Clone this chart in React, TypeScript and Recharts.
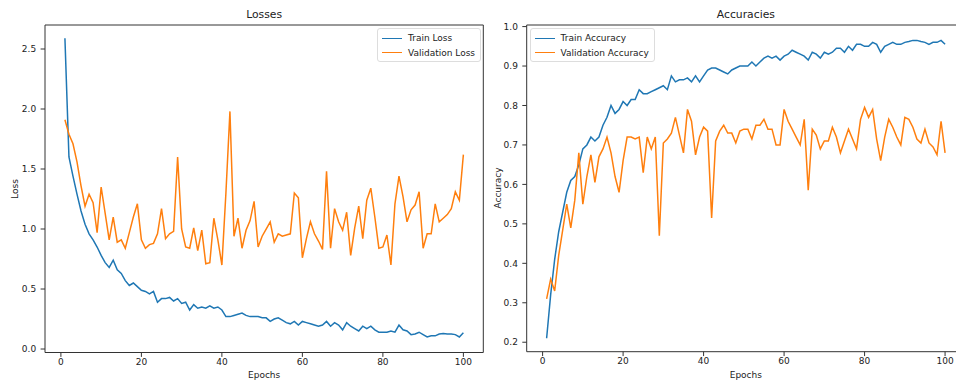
import { LineChart, Line, XAxis, YAxis, ReferenceArea } from 'recharts';

const epochs = Array.from({ length: 100 }, (_, i) => i + 1);

const trainLoss = [
  2.59, 1.6, 1.44, 1.29, 1.15, 1.04, 0.96, 0.91, 0.85, 0.78,
  0.72, 0.68, 0.74, 0.66, 0.63, 0.57, 0.53, 0.55, 0.52, 0.49,
  0.48, 0.46, 0.48, 0.39, 0.42, 0.42, 0.43, 0.4, 0.42, 0.38,
  0.39, 0.325, 0.37, 0.34, 0.35, 0.34, 0.36, 0.34, 0.35, 0.325,
  0.27, 0.27, 0.28, 0.29, 0.3, 0.28, 0.27, 0.27, 0.27, 0.26,
  0.26, 0.23, 0.25, 0.26, 0.24, 0.22, 0.21, 0.23, 0.2, 0.23,
  0.22, 0.21, 0.2, 0.19, 0.2, 0.23, 0.19, 0.22, 0.2, 0.16,
  0.22, 0.19, 0.17, 0.15, 0.19, 0.17, 0.19, 0.16, 0.14, 0.14,
  0.14, 0.15, 0.14, 0.2, 0.16, 0.15, 0.12, 0.125, 0.14, 0.12,
  0.1, 0.11, 0.11, 0.125, 0.13, 0.125, 0.125, 0.12, 0.1, 0.135,
];

const valLoss = [
  1.91, 1.79, 1.71, 1.56, 1.36, 1.19, 1.29, 1.22, 0.97, 1.35,
  1.13, 0.91, 1.1, 0.89, 0.91, 0.84, 0.97, 1.1, 1.21, 0.91,
  0.84, 0.87, 0.88, 0.96, 1.17, 0.92, 0.96, 0.98, 1.6, 1.0,
  0.85, 0.84, 1.01, 0.82, 0.99, 0.71, 0.72, 1.09, 0.91, 0.7,
  1.3, 1.98, 0.94, 1.09, 0.84, 0.99, 1.07, 1.23, 0.85, 0.94,
  1.0, 1.06, 0.89, 0.96, 0.94, 0.95, 0.96, 1.3, 1.26, 0.76,
  0.92, 1.06, 0.96, 0.9, 0.83, 1.48, 0.84, 1.17, 1.06, 0.99,
  1.14, 0.78, 1.01, 1.19, 0.92, 1.24, 1.34, 1.1, 0.84, 0.85,
  0.95, 0.7, 1.21, 1.44, 1.27, 1.06, 1.16, 1.2, 1.31, 0.84,
  0.96, 0.96, 1.21, 1.06, 1.09, 1.12, 1.17, 1.31, 1.24, 1.62,
];

const trainAcc = [
  0.21, 0.32, 0.41, 0.48, 0.53, 0.58, 0.61, 0.62, 0.65, 0.69,
  0.7, 0.72, 0.71, 0.72, 0.75, 0.77, 0.8, 0.78, 0.79, 0.81,
  0.8, 0.815, 0.815, 0.84, 0.83, 0.83, 0.835, 0.84, 0.845, 0.85,
  0.84, 0.875, 0.86, 0.865, 0.865, 0.87, 0.86, 0.875, 0.86, 0.875,
  0.89, 0.895, 0.895, 0.89, 0.885, 0.88, 0.89, 0.895, 0.9, 0.9,
  0.9, 0.91, 0.9, 0.91, 0.92, 0.925, 0.92, 0.925, 0.915, 0.925,
  0.93, 0.94, 0.935, 0.93, 0.925, 0.915, 0.935, 0.93, 0.92, 0.935,
  0.93, 0.935, 0.945, 0.945, 0.935, 0.95, 0.94, 0.955, 0.955, 0.95,
  0.95, 0.96, 0.955, 0.935, 0.95, 0.955, 0.96, 0.955, 0.955, 0.96,
  0.962, 0.965, 0.965, 0.962, 0.96, 0.955, 0.96, 0.96, 0.965, 0.955,
];

const valAcc = [
  0.31, 0.36, 0.33, 0.42, 0.485, 0.55, 0.49, 0.56, 0.68, 0.55,
  0.62, 0.675, 0.605, 0.67, 0.69, 0.72, 0.68, 0.62, 0.58, 0.66,
  0.72, 0.72, 0.715, 0.72, 0.63, 0.72, 0.69, 0.72, 0.47, 0.705,
  0.715, 0.73, 0.77, 0.725, 0.68, 0.79, 0.76, 0.675, 0.72, 0.745,
  0.735, 0.515, 0.71, 0.735, 0.75, 0.73, 0.73, 0.705, 0.735, 0.74,
  0.74, 0.715, 0.75, 0.75, 0.765, 0.74, 0.74, 0.7, 0.7, 0.79,
  0.76, 0.74, 0.72, 0.7, 0.765, 0.585, 0.74, 0.725, 0.69, 0.71,
  0.71, 0.745, 0.72, 0.68, 0.71, 0.74, 0.715, 0.69, 0.765, 0.795,
  0.77, 0.79, 0.715, 0.66, 0.72, 0.765, 0.745, 0.72, 0.7, 0.77,
  0.765, 0.745, 0.715, 0.705, 0.74, 0.705, 0.695, 0.675, 0.76, 0.68,
];

const epochTicks = [0, 20, 40, 60, 80, 100];
const lossTicks = [0, 0.5, 1, 1.5, 2, 2.5];
const accTicks = [0.2, 0.3, 0.4, 0.5, 0.6, 0.7, 0.8, 0.9, 1.0];

const BLUE = '#1f77b4';
const ORANGE = '#ff7f0e';
const FONT = '"DejaVu Sans", sans-serif';
const X_DOMAIN: [number, number] = [-3.95, 104.95];

const lossRows = epochs.map((e, i) => ({ epoch: e, train: trainLoss[i], val: valLoss[i] }));
const accRows = epochs.map((e, i) => ({ epoch: e, train: trainAcc[i], val: valAcc[i] }));

type PanelProps = {
  left: number;
  width: number;
  yAxisWidth: number;
  rightMargin: number;
  xAxisHeight: number;
  title: string;
  yLabel: string;
  yLabelX: number;
  rows: Array<Record<string, number>>;
  yDomain: [number, number];
  yTicks: number[];
  labels: [string, string];
  legend: { left: number; width: number };
};

function Panel(p: PanelProps) {
  const plotLeft = p.yAxisWidth;
  const plotRight = p.width - p.rightMargin;
  const plotTop = 25;
  const plotBottom = 381 - p.xAxisHeight;
  const cx = (plotLeft + plotRight) / 2;
  const cy = (plotTop + plotBottom) / 2;
  const tick = { fontSize: 9, fill: '#222', fontFamily: FONT };

  return (
    <div style={{ position: 'absolute', left: p.left, top: 0, width: p.width, height: 381 }}>
      <LineChart
        width={p.width}
        height={381}
        data={p.rows}
        margin={{ top: plotTop, right: p.rightMargin, bottom: 0, left: 0 }}
      >
        <XAxis
          dataKey="epoch"
          type="number"
          domain={X_DOMAIN}
          ticks={epochTicks}
          allowDataOverflow
          height={p.xAxisHeight}
          axisLine={false}
          tick={tick}
          tickLine={{ stroke: '#333' }}
          tickSize={4.4}
          tickMargin={2}
        />
        <YAxis
          type="number"
          domain={p.yDomain}
          ticks={p.yTicks}
          allowDataOverflow
          width={p.yAxisWidth}
          axisLine={false}
          tick={tick}
          tickLine={{ stroke: '#333' }}
          tickSize={4.4}
          tickMargin={4.4}
          tickFormatter={(v: number) => v.toFixed(1)}
        />
        <Line type="linear" dataKey="train" stroke={BLUE} strokeWidth={1.5} dot={false} isAnimationActive={false} />
        <Line type="linear" dataKey="val" stroke={ORANGE} strokeWidth={1.5} dot={false} isAnimationActive={false} />
        <ReferenceArea
          x1={X_DOMAIN[0]}
          x2={X_DOMAIN[1]}
          y1={p.yDomain[0]}
          y2={p.yDomain[1]}
          fill="none"
          stroke="#333"
          strokeWidth={1}
          ifOverflow="visible"
        />
      </LineChart>

      {/* title, axis labels */}
      <div style={{ position: 'absolute', left: cx - 100, width: 200, top: 8, textAlign: 'center', fontSize: 10.8, fontFamily: FONT, color: '#222', lineHeight: '14px' }}>
        {p.title}
      </div>
      <div style={{ position: 'absolute', left: cx - 100, width: 200, top: 369, textAlign: 'center', fontSize: 9, fontFamily: FONT, color: '#222', lineHeight: '12px' }}>
        Epochs
      </div>
      <div
        style={{
          position: 'absolute',
          left: p.yLabelX - 60,
          top: cy - 6,
          width: 120,
          textAlign: 'center',
          fontSize: 9,
          fontFamily: FONT,
          color: '#222',
          lineHeight: '12px',
          transform: 'rotate(-90deg)',
        }}
      >
        {p.yLabel}
      </div>

      {/* legend box */}
      <div
        style={{
          position: 'absolute',
          left: p.legend.left,
          top: 28,
          width: p.legend.width,
          height: 32,
          border: '1px solid #ddd',
          borderRadius: 3,
          background: 'rgba(255,255,255,0.8)',
          fontFamily: FONT,
          fontSize: 9,
          color: '#222',
        }}
      >
        {p.labels.map((label, i) => (
          <div key={label} style={{ position: 'absolute', left: 4, top: 3 + i * 14.5, height: 12, display: 'flex', alignItems: 'center' }}>
            <span style={{ display: 'inline-block', width: 20, height: 0, borderTop: `1.5px solid ${i === 0 ? BLUE : ORANGE}`, marginRight: 6 }} />
            <span>{label}</span>
          </div>
        ))}
      </div>
    </div>
  );
}

export default function App() {
  return (
    <div style={{ position: 'fixed', left: 0, top: 0, width: 956, height: 381, overflow: 'hidden', background: '#fff' }}>
      <Panel
        left={0}
        width={490}
        yAxisWidth={45}
        rightMargin={6.7}
        xAxisHeight={28.5}
        title="Losses"
        yLabel="Loss"
        yLabelX={15}
        rows={lossRows}
        yDomain={[-0.029, 2.7]}
        yTicks={lossTicks}
        labels={['Train Loss', 'Validation Loss']}
        legend={{ left: 377, width: 102 }}
      />
      <Panel
        left={490}
        width={480}
        yAxisWidth={36.7}
        rightMargin={5}
        xAxisHeight={29.3}
        title="Accuracies"
        yLabel="Accuracy"
        yLabelX={8.3}
        rows={accRows}
        yDomain={[0.176, 1.004]}
        yTicks={accTicks}
        labels={['Train Accuracy', 'Validation Accuracy']}
        legend={{ left: 39.5, width: 123 }}
      />
    </div>
  );
}
